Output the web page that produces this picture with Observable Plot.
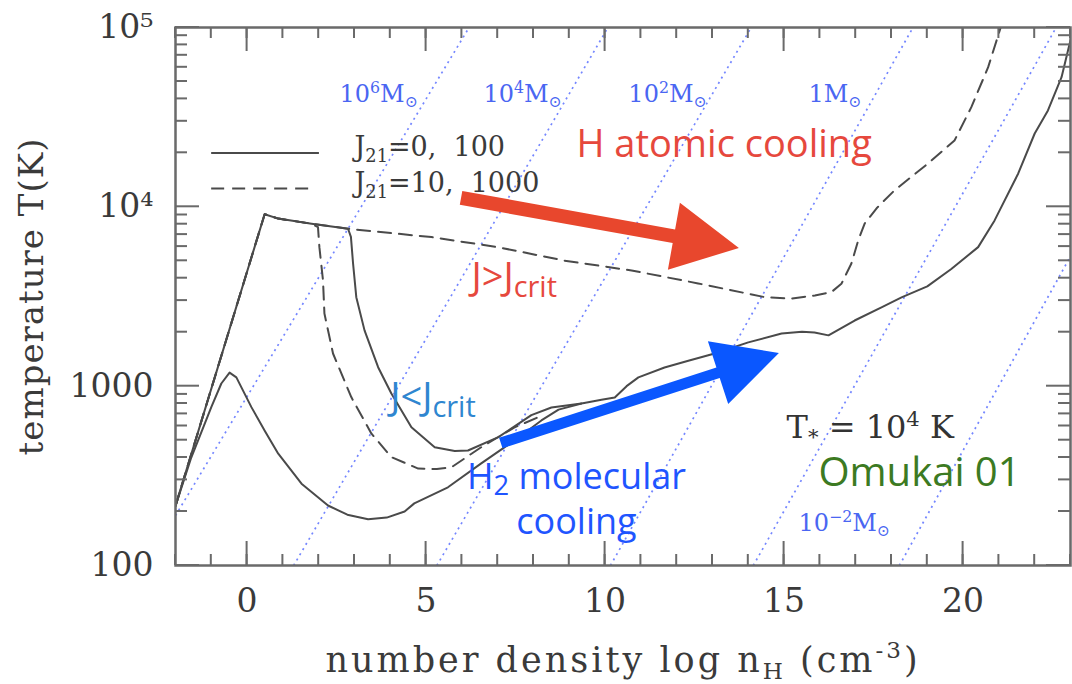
<!DOCTYPE html>
<html><head><meta charset="utf-8">
<script src="https://cdn.jsdelivr.net/npm/d3@7"></script>
<script src="https://cdn.jsdelivr.net/npm/@observablehq/plot@0.6"></script>
<style>html,body{margin:0;padding:0;background:#fff}svg{display:block}</style>
</head><body><div id="chart"></div>
<script>
// ---------- data ----------
// x = log n_H [cm^-3], T = temperature [K]
const j0X = [-2, -1.56, -1.0, -0.72, -0.49, -0.3, 0.12, 0.5, 0.87, 1.52, 2.26, 2.8, 3.38, 3.9, 4.4, 4.67, 5.61, 6.54, 7.47, 8.22, 8.7, 9.34, 9.9, 10.27, 10.6, 10.93, 11.66, 12.3, 13.06, 14.0, 14.93, 15.5, 15.85, 16.24, 16.97, 17.72, 18.28, 19.0, 19.67, 20.42, 20.88, 21.54, 22.0, 22.37, 22.75, 22.93, 23];
const j0T = [215, 400, 764, 1035, 1190, 1120, 764, 560, 420, 286, 216, 192, 181, 185, 200, 222, 273, 371, 498, 644, 740, 801, 840, 865, 1000, 1119, 1271, 1380, 1521, 1754, 1967, 2010, 1993, 1920, 2323, 2750, 3124, 3600, 4500, 5960, 8400, 15350, 25640, 34500, 52800, 74500, 85000];

const j100X = [-2, 0.49, 0.87, 1.8, 2.82, 2.9, 2.96, 3.05, 3.28, 3.66, 4.03, 4.59, 5.24, 5.8, 6.17, 7.02, 7.94, 8.5, 9.34];
const j100T = [215, 9100, 8600, 8050, 7550, 6800, 4830, 3135, 2047, 1276, 910, 590, 457, 435, 438, 520, 690, 760, 801];

const j10X = [-2, 0.49, 0.87, 1.8, 1.98, 2.02, 2.12, 2.16, 2.4, 2.91, 3.47, 4.03, 4.78, 5.3, 5.71, 6.54, 7.47, 8.2];
const j10T = [215, 9100, 8600, 8050, 7700, 5940, 3890, 2540, 1521, 869, 545, 402, 347, 345, 353, 457, 589, 680];

const j1000X = [-2, 0.49, 0.87, 1.8, 2.82, 5.15, 7.0, 8.87, 10.74, 12.6, 14.46, 15.2, 15.86, 16.32, 16.6, 16.88, 17.07, 17.25, 17.6, 18.08, 19.02, 19.76, 20.23, 20.7, 21.05];
const j1000T = [215, 9100, 8600, 8050, 7550, 6780, 5960, 5010, 4415, 3740, 3135, 3080, 3206, 3345, 3720, 4830, 6500, 8070, 9900, 12330, 17450, 23440, 35970, 60100, 100000];

// Jeans-mass lines (start / end points)
const jeansX1 = [-2, 1.3, 5.3, 10.15, 14.14, 18.22];
const jeansT1 = [190, 100, 100, 100, 100, 100];
const jeansX2 = [6.2, 10.08, 14.08, 18.6, 22.6, 23];
const jeansT2 = [1e5, 1e5, 1e5, 1e5, 1e5, 5300];

// Jeans-mass labels
const massLabels = ["10^{6}M_{⊙}", "10^{4}M_{⊙}", "10^{2}M_{⊙}", "1M_{⊙}", "10^{−2}M_{⊙}"];
const massX = [2.58, 6.6, 10.65, 15.68, 15.4];
const massT = [38200, 38200, 38200, 38200, 155];

// axes
const xMajorTicks = [0, 5, 10, 15, 20];
const xMinorTicks = d3.range(-2, 24, 1);
const yMajorTicks = [100, 1000, 1e4, 1e5];
const yTickLabels = ["100", "1000", "10⁴", "10⁵"];
const yMinorTicks = [2,3,4,5,6,7,8,9].flatMap(k => [k*100, k*1000, k*10000]);

// ---------- build ----------
const NS = "http://www.w3.org/2000/svg";
const rows = (xs, ts) => xs.map((x, i) => ({x, T: ts[i]}));
const jeans = jeansX1.map((x1, i) => ({x1, y1: jeansT1[i], x2: jeansX2[i], y2: jeansT2[i]}));
const masses = massLabels.map((label, i) => ({label, x: massX[i], T: massT[i]}));

const W = 1072, H = 684, mL = 175, mR = 2, mT = 27, mB = 119;

const gray = "#4a4a4a";
const axisGray = "#6a6a6a";
const dash = "13,8";
const serif = "DejaVu Serif";
const sans = "Open Sans";

const chart = Plot.plot({
  width: W, height: H,
  marginLeft: mL, marginRight: mR, marginTop: mT, marginBottom: mB,
  style: {fontFamily: serif, background: "#fff"},
  x: {domain: [-2, 23], axis: null},
  y: {type: "log", domain: [100, 1e5], axis: null},
  marks: [
    Plot.link(jeans, {x1: "x1", y1: "y1", x2: "x2", y2: "y2", stroke: "#7486ff", strokeWidth: 1.7, strokeDasharray: "2,4", clip: true}),
    Plot.line(rows(j1000X, j1000T), {x: "x", y: "T", stroke: gray, strokeWidth: 2, strokeDasharray: dash, clip: true}),
    Plot.line(rows(j10X, j10T), {x: "x", y: "T", stroke: gray, strokeWidth: 2, strokeDasharray: dash, clip: true}),
    Plot.line(rows(j100X, j100T), {x: "x", y: "T", stroke: gray, strokeWidth: 2, clip: true}),
    Plot.line(rows(j0X, j0T), {x: "x", y: "T", stroke: gray, strokeWidth: 2, clip: true}),
    Plot.frame({stroke: axisGray, strokeWidth: 2.5}),
    Plot.axisX({anchor: "bottom", ticks: xMajorTicks, tickSize: 0, tickPadding: 23, label: null, fontSize: 33, fill: "#3a3a3a"}),
    Plot.axisY({anchor: "left", ticks: yMajorTicks, tickSize: 0, tickPadding: 22, label: null, fontSize: 33, fill: "#3a3a3a",
      tickFormat: d => yTickLabels[yMajorTicks.indexOf(d)]}),
    // axis titles
    Plot.text([0], {frameAnchor: "bottom", textAnchor: "middle", dy: 106, lineAnchor: "bottom", text: () => "number density log n_{H} (cm^{-3})", fontSize: 35, fill: "#3a3a3a"}),
    Plot.text([0], {frameAnchor: "left", textAnchor: "middle", lineAnchor: "middle", dx: -143, rotate: -90, text: () => "temperature T(K)", fontSize: 34, fill: "#3a3a3a"}),
    // legend
    Plot.ruleY([19930], {x1: -0.99, x2: 2.02, stroke: gray, strokeWidth: 2}),
    Plot.ruleY([12660], {x1: -0.99, x2: 1.74, stroke: gray, strokeWidth: 2, strokeDasharray: dash}),
    Plot.text([{x: 3.0, T: 21400, t: "J_{21}=0,  100"}, {x: 3.0, T: 13500, t: "J_{21}=10,  1000"}],
      {x: "x", y: "T", text: "t", textAnchor: "start", fontSize: 27, fill: "#3a3a3a"}),
    // Jeans mass labels
    Plot.text(masses, {x: "x", y: "T", text: "label", textAnchor: "start", lineAnchor: "bottom", fontSize: 24, fill: "#4a66f2"}),
    // annotations
    Plot.text([{x: 9.2, T: 18860, t: "H atomic cooling"}], {x: "x", y: "T", text: "t", textAnchor: "start", lineAnchor: "bottom", fontFamily: sans, fontSize: 38, fill: "#e6483d"}),
    Plot.text([{x: 6.27, T: 3418, t: "J>J_{crit}"}], {x: "x", y: "T", text: "t", textAnchor: "start", lineAnchor: "bottom", fontFamily: sans, fontSize: 38, fill: "#e6483d"}),
    Plot.text([{x: 4.0, T: 732, t: "J<J_{crit}"}], {x: "x", y: "T", text: "t", textAnchor: "start", lineAnchor: "bottom", fontFamily: sans, fontSize: 38, fill: "#2f86d0"}),
    Plot.text([{x: 9.2, T: 268, t: "H_{2} molecular"}, {x: 9.2, T: 150, t: "cooling"}], {x: "x", y: "T", text: "t", textAnchor: "middle", lineAnchor: "bottom", fontFamily: sans, fontSize: 36, fill: "#1f55ff"}),
    Plot.text([{x: 15.07, T: 515, t: "T_{*} = 10^{4} K"}], {x: "x", y: "T", text: "t", textAnchor: "start", lineAnchor: "bottom", fontSize: 32, fill: "#333"}),
    Plot.text([{x: 15.96, T: 279, t: "Omukai 01"}], {x: "x", y: "T", text: "t", textAnchor: "start", lineAnchor: "bottom", fontFamily: sans, fontSize: 40, fill: "#3c7a22"})
  ]
});
document.getElementById("chart").appendChild(chart);

const sx = chart.scale("x"), sy = chart.scale("y");

// ---------- inward ticks on all four sides, placed through the plot's scales ----------
(function drawTicks() {
  const xr = sx.range, yr = sy.range;
  const left = Math.min(xr[0], xr[1]), right = Math.max(xr[0], xr[1]);
  const top = Math.min(yr[0], yr[1]), bottom = Math.max(yr[0], yr[1]);
  const g = document.createElementNS(NS, "g");
  g.setAttribute("fill", axisGray);
  const rect = (x, y, w, h) => {
    const r = document.createElementNS(NS, "rect");
    r.setAttribute("x", x.toFixed(1)); r.setAttribute("y", y.toFixed(1));
    r.setAttribute("width", w); r.setAttribute("height", h);
    g.appendChild(r);
  };
  for (const [ticks, len] of [[xMinorTicks, 11], [xMajorTicks, 24]]) {
    for (const v of ticks) {
      const px = sx.apply(v);
      rect(px - 1, bottom - len, 2, len);
      rect(px - 1, top, 2, len);
    }
  }
  for (const [ticks, len] of [[yMinorTicks, 12], [yMajorTicks, 24]]) {
    for (const v of ticks) {
      const py = sy.apply(v);
      rect(left, py - 1, len, 2);
      rect(right - len, py - 1, len, 2);
    }
  }
  chart.appendChild(g);
})();

// ---------- arrows (drawn through the plot's scales) ----------
function drawArrow(a) {
  const ax = sx.apply(a.x1), ay = sy.apply(a.y1), bx = sx.apply(a.x2), by = sy.apply(a.y2);
  const L = Math.hypot(bx - ax, by - ay), ux = (bx - ax) / L, uy = (by - ay) / L, nx = -uy, ny = ux;
  const hx = bx - ux * a.headL, hy = by - uy * a.headL;
  const s = a.shaft / 2, h = a.headW / 2;
  const pts = [[ax + nx*s, ay + ny*s], [hx + nx*s, hy + ny*s], [hx + nx*h, hy + ny*h], [bx, by],
               [hx - nx*h, hy - ny*h], [hx - nx*s, hy - ny*s], [ax - nx*s, ay - ny*s]];
  const p = document.createElementNS(NS, "polygon");
  p.setAttribute("points", pts.map(q => q.map(v => v.toFixed(1)).join(",")).join(" "));
  p.setAttribute("fill", a.color);
  chart.appendChild(p);
}
drawArrow({x1: 5.99, y1: 11140, x2: 13.75, y2: 5860, shaft: 14, headW: 68, headL: 66, color: "#e8472d"});
drawArrow({x1: 7.10, y1: 479, x2: 14.87, y2: 1521, shaft: 11, headW: 66, headL: 64, color: "#0a57ff"});

// ---------- rich text: _{sub} and ^{sup} ----------
chart.querySelectorAll("text").forEach(t => {
  const s = t.textContent;
  if (s.startsWith("number")) t.setAttribute("letter-spacing", "3");
  if (s.startsWith("temperature")) t.setAttribute("letter-spacing", "1");
  if (!/[_^]\{/.test(s)) return;
  const cs = getComputedStyle(t);
  const fs = parseFloat(cs.fontSize) || 16;
  const isSans = /Open Sans/.test(cs.fontFamily);
  const ratio = isSans ? 0.76 : 0.66;
  const subShift = isSans ? 0.17 : 0.2;
  const parts = [], re = /([_^])\{([^}]*)\}/g;
  let last = 0, m;
  while ((m = re.exec(s))) {
    if (m.index > last) parts.push(["n", s.slice(last, m.index)]);
    parts.push([m[1], m[2]]);
    last = re.lastIndex;
  }
  if (last < s.length) parts.push(["n", s.slice(last)]);
  while (t.firstChild) t.removeChild(t.firstChild);
  let cur = 0;
  for (const [k, txt] of parts) {
    const ts = document.createElementNS(NS, "tspan");
    const target = k === "_" ? fs * subShift : k === "^" ? -fs * 0.38 : 0;
    if (target !== cur) ts.setAttribute("dy", (target - cur).toFixed(2));
    cur = target;
    if (k !== "n") ts.setAttribute("font-size", (fs * ratio).toFixed(1));
    ts.textContent = txt;
    t.appendChild(ts);
  }
});
</script>
</body></html>
